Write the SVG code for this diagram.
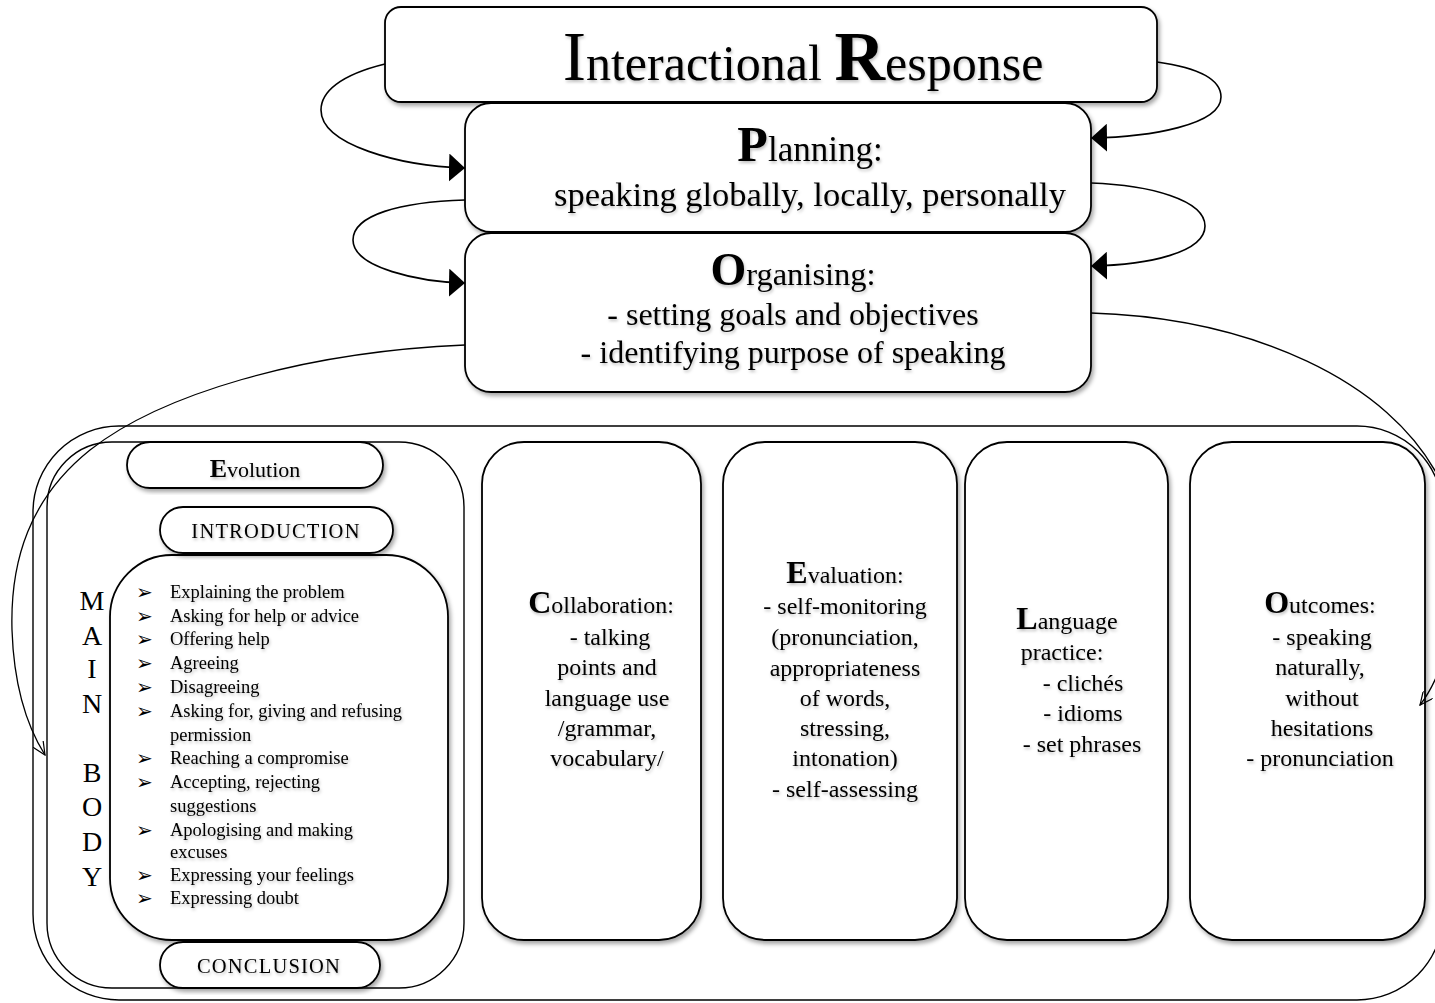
<svg xmlns="http://www.w3.org/2000/svg" width="1435" height="1003" viewBox="0 0 1435 1003">
<defs>
  <filter id="sh" x="-10%" y="-10%" width="125%" height="125%">
    <feDropShadow dx="2" dy="3" stdDeviation="2" flood-color="#000" flood-opacity="0.35"/>
  </filter>
  <filter id="tsh" x="-5%" y="-20%" width="115%" height="160%">
    <feDropShadow dx="1" dy="2" stdDeviation="1.5" flood-color="#000" flood-opacity="0.25"/>
  </filter>
  <marker id="solid" viewBox="0 0 16 28" refX="16" refY="14" markerWidth="16" markerHeight="28" markerUnits="userSpaceOnUse" orient="auto">
    <path d="M0,0 L16,14 L0,28 Z" fill="#000"/>
  </marker>
  <marker id="open" viewBox="0 0 14 12" refX="13" refY="6" markerWidth="14" markerHeight="12" markerUnits="userSpaceOnUse" orient="auto">
    <path d="M0,0 L13,6 L0,12" fill="none" stroke="#000" stroke-width="1.2"/>
  </marker>
</defs>
<style>
  .box { fill: #fff; stroke: #000; stroke-width: 1.8; filter: url(#sh); }
  .thin { fill: #fff; stroke: #000; stroke-width: 1.4; }
  .t { font-family: "Liberation Serif", "Times New Roman", serif; fill: #000; filter: url(#tsh); }
  .c { text-anchor: middle; }
  .col { font-size: 24px; }
  .li { font-size: 18.5px; }
  .bul { font-family: "DejaVu Sans", sans-serif; font-size: 20px; fill: #000; }
  .mb { font-family: "Liberation Serif", serif; font-size: 28px; text-anchor: middle; }
  .cap { font-weight: bold; }
  .con { fill: none; stroke: #000; stroke-width: 1.6; }
  .con2 { fill: none; stroke: #000; stroke-width: 1.3; }
</style>

<rect width="1435" height="1003" fill="#fff"/>

<g id="outer-frame">
  <rect class="thin" x="33" y="426" width="1410" height="574" rx="86" ry="86"/>
</g>

<g id="evolution">
  <rect class="thin" x="47" y="442" width="417" height="546" rx="65" ry="65"/>
  <g id="main-body">
    <rect class="box" x="110" y="555" width="338" height="385" rx="62" ry="62"/>
    <text class="mb" x="92" y="610">M</text>
    <text class="mb" x="92" y="645">A</text>
    <text class="mb" x="92" y="678">I</text>
    <text class="mb" x="92" y="713">N</text>
    <text class="mb" x="92" y="782">B</text>
    <text class="mb" x="92" y="816">O</text>
    <text class="mb" x="92" y="851">D</text>
    <text class="mb" x="92" y="886">Y</text>
    <g>
      <text class="bul" x="136" y="599">➢</text>
      <text class="bul" x="136" y="623">➢</text>
      <text class="bul" x="136" y="646">➢</text>
      <text class="bul" x="136" y="670">➢</text>
      <text class="bul" x="136" y="694">➢</text>
      <text class="bul" x="136" y="718">➢</text>
      <text class="bul" x="136" y="765">➢</text>
      <text class="bul" x="136" y="789">➢</text>
      <text class="bul" x="136" y="837">➢</text>
      <text class="bul" x="136" y="882">➢</text>
      <text class="bul" x="136" y="905">➢</text>
    </g>
    <g class="t li">
      <text x="170" y="598">Explaining the problem</text>
      <text x="170" y="622">Asking for help or advice</text>
      <text x="170" y="645">Offering help</text>
      <text x="170" y="669">Agreeing</text>
      <text x="170" y="693">Disagreeing</text>
      <text x="170" y="717">Asking for, giving and refusing</text>
      <text x="170" y="741">permission</text>
      <text x="170" y="764">Reaching a compromise</text>
      <text x="170" y="788">Accepting, rejecting</text>
      <text x="170" y="812">suggestions</text>
      <text x="170" y="836">Apologising and making</text>
      <text x="170" y="858">excuses</text>
      <text x="170" y="881">Expressing your feelings</text>
      <text x="170" y="904">Expressing doubt</text>
    </g>
  </g>
  <g id="evolution-title">
    <rect class="box" x="127" y="442" width="256" height="46" rx="23" ry="23"/>
    <text class="t c" x="255" y="477" font-size="22"><tspan class="cap" font-size="26">E</tspan>volution</text>
  </g>
  <g id="introduction">
    <rect class="box" x="160" y="507" width="233" height="46" rx="23" ry="23"/>
    <text class="t c" x="276" y="538" font-size="20.5" letter-spacing="1.2">INTRODUCTION</text>
  </g>
  <g id="conclusion">
    <rect class="box" x="160" y="942" width="220" height="46" rx="23" ry="23"/>
    <text class="t c" x="269" y="973" font-size="20.5" letter-spacing="1.2">CONCLUSION</text>
  </g>
</g>

<g id="collaboration">
  <rect class="box" x="482" y="442" width="219" height="498" rx="42" ry="42"/>
  <g class="t c col">
    <text x="601" y="613"><tspan class="cap" font-size="32">C</tspan>ollaboration:</text>
    <text x="610" y="645">- talking</text>
    <text x="607" y="675">points and</text>
    <text x="607" y="706">language use</text>
    <text x="607" y="736">/grammar,</text>
    <text x="607" y="766">vocabulary/</text>
  </g>
</g>

<g id="evaluation">
  <rect class="box" x="723" y="442" width="234" height="498" rx="42" ry="42"/>
  <g class="t c col">
    <text x="845" y="583"><tspan class="cap" font-size="32">E</tspan>valuation:</text>
    <text x="845" y="614">- self-monitoring</text>
    <text x="845" y="645">(pronunciation,</text>
    <text x="845" y="676">appropriateness</text>
    <text x="845" y="706">of words,</text>
    <text x="845" y="736">stressing,</text>
    <text x="845" y="766">intonation)</text>
    <text x="845" y="797">- self-assessing</text>
  </g>
</g>

<g id="language">
  <rect class="box" x="965" y="442" width="203" height="498" rx="42" ry="42"/>
  <g class="t col">
    <text class="c" x="1067" y="629"><tspan class="cap" font-size="32">L</tspan>anguage</text>
    <text class="c" x="1062" y="660">practice:</text>
    <text class="c" x="1083" y="691">- clichés</text>
    <text class="c" x="1083" y="721">- idioms</text>
    <text class="c" x="1082" y="752">- set phrases</text>
  </g>
</g>

<g id="outcomes">
  <rect class="box" x="1190" y="442" width="235" height="498" rx="42" ry="42"/>
  <g class="t c col">
    <text x="1320" y="613"><tspan class="cap" font-size="32">O</tspan>utcomes:</text>
    <text x="1322" y="645">- speaking</text>
    <text x="1320" y="675">naturally,</text>
    <text x="1322" y="706">without</text>
    <text x="1322" y="736">hesitations</text>
    <text x="1320" y="766">- pronunciation</text>
  </g>
</g>

<g id="interactional-response">
  <rect class="box" x="385" y="7" width="772" height="95" rx="16" ry="16"/>
  <text class="t c" x="803" y="80" font-size="50"><tspan font-size="70">I</tspan>nteractional <tspan class="cap" font-size="70">R</tspan>esponse</text>
</g>

<g id="planning">
  <rect class="box" x="465" y="103" width="626" height="129" rx="26" ry="26"/>
  <text class="t c" x="810" y="161" font-size="35"><tspan class="cap" font-size="50">P</tspan>lanning:</text>
  <text class="t c" x="810" y="206" font-size="34.5">speaking globally, locally, personally</text>
</g>

<g id="organising">
  <rect class="box" x="465" y="233" width="626" height="159" rx="26" ry="26"/>
  <text class="t c" x="793" y="285" font-size="32.5"><tspan class="cap" font-size="46">O</tspan>rganising:</text>
  <text class="t c" x="793" y="325" font-size="32">- setting goals and objectives</text>
  <text class="t c" x="793" y="363" font-size="32">- identifying purpose of speaking</text>
</g>

<g id="connectors">
  <path class="con" d="M385,64 C340,75 321,92 321,110 C321,145 400,166 465,168" marker-end="url(#solid)"/>
  <path class="con" d="M1157,62 C1200,68 1221,80 1221,97 C1221,125 1150,137 1091,138" marker-end="url(#solid)"/>
  <path class="con" d="M465,200 C400,202 353,215 353,240 C353,268 420,282 465,283" marker-end="url(#solid)"/>
  <path class="con" d="M1091,183 C1150,185 1205,200 1205,226 C1205,252 1150,265 1091,266" marker-end="url(#solid)"/>
  <path class="con2" d="M465,345 C300,352 160,395 90,450 C30,498 10,560 12,630 C14,690 28,728 45,755" marker-end="url(#open)"/>
  <path class="con2" d="M1091,313 C1250,318 1390,380 1440,480 C1470,560 1455,660 1420,705" marker-end="url(#open)"/>
</g>
</svg>
